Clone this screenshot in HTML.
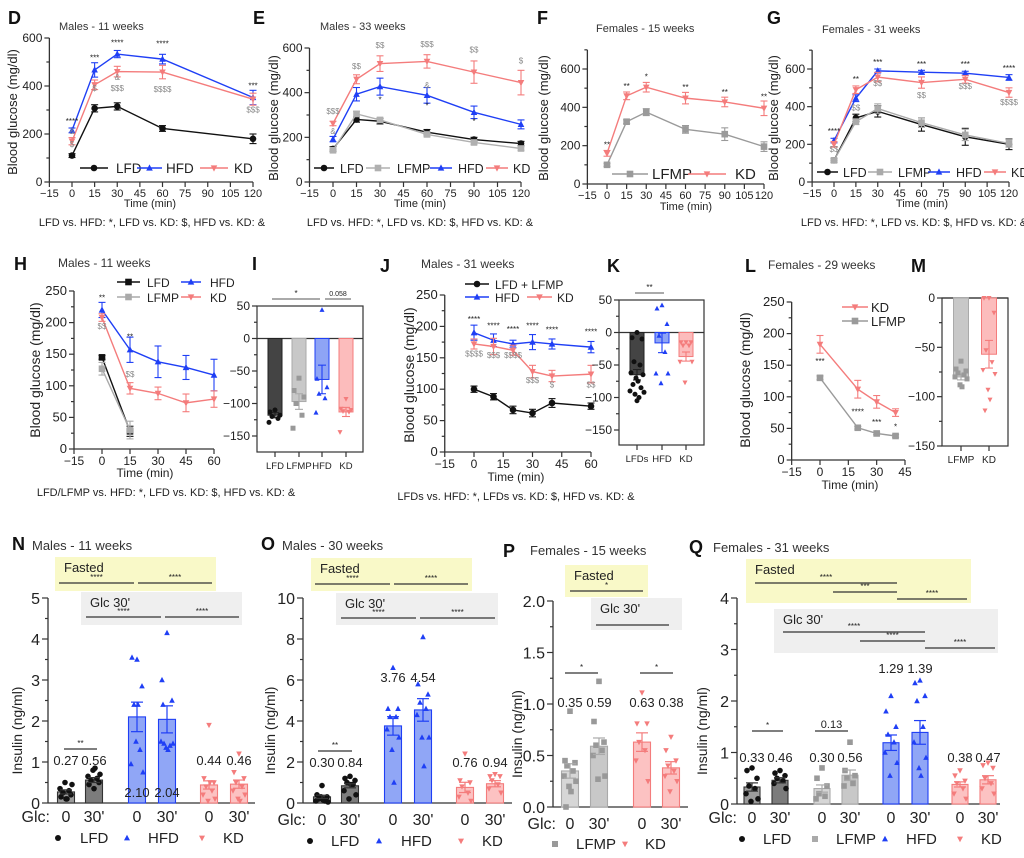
<!DOCTYPE html>
<html><head><meta charset="utf-8"><style>
html,body{margin:0;padding:0;background:#fff;}
svg{display:block;font-family:"Liberation Sans",sans-serif;}
</style></head><body>
<svg id="fig" width="1024" height="858" viewBox="0 0 1024 858"></svg>
<script>
/* ---------- DATA ---------- */
// D
const dX=[0,15,30,60,120];
const dLFD=[110,307,315,223,180], dLFDe=[8,15,15,12,20];
const dHFD=[215,467,533,512,352], dHFDe=[10,30,15,20,30];
const dKD=[170,405,460,458,345], dKDe=[15,20,22,28,25];
// E
const eX=[0,15,30,60,90,120];
const eLFD=[148,280,272,223,190,172], eLFDe=[10,12,12,12,10,10];
const eLFMP=[142,305,278,213,177,150], eLFMPe=[8,12,10,10,8,8];
const eHFD=[192,393,427,388,312,258], eHFDe=[12,30,38,35,28,20];
const eKD=[262,460,530,540,492,445], eKDe=[10,20,35,30,50,55];
// F
const fX=[0,15,30,60,90,120];
const fLFMP=[100,325,375,285,260,195], fLFMPe=[8,10,18,20,33,25];
const fKD=[160,460,505,448,428,395], fKDe=[15,20,25,30,25,38];
// G
const gX=[0,15,30,60,90,120];
const gLFD=[115,340,375,305,240,200], gLFDe=[10,20,30,35,45,28];
const gLFMP=[115,320,390,315,250,205], gLFMPe=[8,15,25,25,30,20];
const gHFD=[220,445,590,583,578,555], gHFDe=[12,18,10,10,10,15];
const gKD=[200,490,557,528,545,475], gKDe=[15,20,25,30,20,25];
// H
const hX2=[0,15], hX=[0,15,30,45,60];
const hLFD=[145,28], hLFDe=[3,8];
const hLFMP=[127,30], hLFMPe=[10,14];
const hHFD=[220,157,138,129,117], hHFDe=[12,20,25,19,25];
const hKD=[208,96,88,73,79], hKDe=[6,9,10,14,13];
// J
const jX=[0,10,20,30,40,60];
const jLFD=[100,88,67,62,78,73], jLFDe=[5,5,6,6,7,5];
const jHFD=[190,178,172,175,172,167], jHFDe=[12,10,6,12,8,9];
const jKD=[172,168,162,128,121,124], jKDe=[8,13,8,10,9,14];
// L
const lX=[0,20,30,40];
const lKD=[183,112,92,75], lKDe=[14,14,10,6];
const lLFMP=[130,51,42,38], lLFMPe=[3,2,2,2];
// I
const iCats=["LFD","LFMP","HFD","KD"];
const iVals=[-118,-97,-63,-113], iErr=[4,12,22,7];
const iPts=[[-110,-113,-118,-120,-123,-129],[-61,-80,-90,-100,-118,-138],[44,-62,-75,-85,-92,-114],[-93,-108,-110,-112,-113,-144]];
// K
const kCats=["LFDs","HFD","KD"];
const kVals=[-65,-16,-37], kErr=[8,15,7];
const kPts=[[0,-8,-10,-45,-50,-62,-65,-70,-75,-80,-85,-90,-92,-95,-100,-105],[42,37,13,-5,-30,-63,-63,-78],[-15,-15,-15,-20,-20,-45,-45,-77]];
// M
const mCats=["LFMP","KD"];
const mVals=[-80,-57], mErr=[3,14];
const mPts=[[-64,-72,-74,-76,-78,-80,-82,-88,-90],[0,0,-15,-53,-65,-73,-77,-93,-103,-114]];
// N
const nVals=[0.27,0.56,2.10,2.04,0.44,0.46], nErr=[0.05,0.06,0.36,0.33,0.1,0.1];
const nLabels=["0.27","0.56","2.10","2.04","0.44","0.46"];
const nPts=[[0.1,0.15,0.2,0.25,0.3,0.35,0.45,0.5,0.1],[0.35,0.45,0.5,0.55,0.6,0.65,0.7,0.8,0.85],[3.5,3.55,2.85,2.4,1.3,0.95,0.75,1.5,2.4],[4.15,3.0,2.5,1.45,1.4,1.5,1.45,1.35,1.3,2.4],[1.9,0.6,0.5,0.4,0.3,0.2,0.1,0.05,0.5],[1.2,0.75,0.6,0.5,0.4,0.3,0.2,0.1,0.05]];
// O
const oVals=[0.30,0.84,3.76,4.54,0.76,0.94], oErr=[0.08,0.1,0.45,0.55,0.25,0.15];
const oLabels=["0.30","0.84","3.76","4.54","0.76","0.94"];
const oPts=[[0.85,0.4,0.3,0.2,0.1,0.1,0.05,0.3,0.15],[1.3,1.2,1.1,1.0,0.9,0.6,0.4,0.2,0.9],[6.6,4.6,4.6,4.2,4.2,3.6,3.2,2.6,1.0],[8.1,5.8,5.3,4.9,4.6,4.3,3.2,3.2,1.8],[2.4,1.1,1.0,0.8,0.5,0.3,0.1],[1.4,1.3,1.3,1.1,0.9,0.7,0.5]];
// P
const pVals=[0.35,0.59,0.63,0.38], pErr=[0.07,0.08,0.09,0.06];
const pLabels=["0.35","0.59","0.63","0.38"];
const pPts=[[0.93,0.45,0.43,0.4,0.35,0.3,0.25,0.2,0.15,0.0],[1.22,0.83,0.63,0.6,0.55,0.5,0.3,0.27],[1.11,0.81,0.81,0.63,0.55,0.45,0.25],[0.68,0.55,0.45,0.4,0.35,0.3,0.25,0.15]];
// Q
const qVals=[0.33,0.46,0.30,0.56,1.19,1.39,0.38,0.47], qErr=[0.08,0.05,0.07,0.1,0.15,0.23,0.05,0.08];
const qLabels=["0.33","0.46","0.30","0.56","1.29","1.39","0.38","0.47"];
const qPts=[[0.7,0.65,0.5,0.35,0.3,0.2,0.1,0.05],[0.65,0.6,0.55,0.5,0.45,0.4,0.3],[0.7,0.5,0.35,0.2,0.15,0.1],[1.2,0.65,0.55,0.5,0.4,0.35],[2.1,1.8,1.5,1.35,1.2,1.0,0.8,0.55],[2.4,2.35,2.1,2.0,1.5,1.2,0.9,0.7,0.55],[0.65,0.55,0.45,0.4,0.3,0.2,0.1],[0.8,0.75,0.7,0.5,0.4,0.3,0.2]];

/* ---------- HELPERS ---------- */
const NS='http://www.w3.org/2000/svg';
const svg=document.getElementById('fig');
const C={LFD:'#111',LFMP:'#9a9a9a',HFD:'#1f3ff5',KD:'#f47c7c'};
function add(tag,attrs,name,parent,txt){
  const e=document.createElementNS(NS,tag);
  for(const k in attrs) e.setAttribute(k,attrs[k]);
  
  
  if(txt!==undefined) e.textContent=txt;
  (parent||svg).appendChild(e);
  return e;
}
function text(x,y,t,name,o,parent){
  o=o||{};
  return add('text',{x:x,y:y,'font-size':o.fs||11,fill:o.fill||'#222','text-anchor':o.anchor||'start','font-weight':o.fw||'normal',transform:o.tr||''},name,parent,t);
}
function marker(p,type,x,y,s,col,name){
  if(type==='circle') return add('circle',{cx:x,cy:y,r:s,fill:col},name,p);
  if(type==='square') return add('rect',{x:x-s,y:y-s,width:2*s,height:2*s,fill:col},name,p);
  if(type==='up') return add('polygon',{points:`${x},${y-s*1.1} ${x-s},${y+s*0.8} ${x+s},${y+s*0.8}`,fill:col},name,p);
  return add('polygon',{points:`${x},${y+s*1.1} ${x-s},${y-s*0.8} ${x+s},${y-s*0.8}`,fill:col},name,p);
}
function vline(p,x,y1,y2,name,col,w){return add('line',{x1:x,y1:y1,x2:x,y2:y2,stroke:col||'#333','stroke-width':w||1.2},name,p);}
function hline(p,x1,x2,y,name,col,w){return add('line',{x1:x1,y1:y,x2:x2,y2:y,stroke:col||'#333','stroke-width':w||1.2},name,p);}

/* ---------- LINE CHART ---------- */
function lineChart(c){
  const g=add('g',{},c.id+'-chart');
  const sx=v=>c.xz+v*c.xs;
  const sy=v=>c.y0-(v-c.ymin)/(c.ymax-c.ymin)*(c.y0-c.yt);
  const axX=sx(c.xmin);
  const yTopPx=sy(c.yAxisMax!==undefined?c.yAxisMax:c.ymax);
  vline(g,axX,c.y0,yTopPx,c.id+'-y-axis','#333',1.3);
  hline(g,axX,sx(c.xmax),c.y0,c.id+'-x-axis','#333',1.3);
  for(let v=c.ymin; v<= (c.yAxisMax!==undefined?c.yAxisMax:c.ymax)+1e-9; v+=c.yMinor){
    const major=c.yTicks.some(t=>Math.abs(t-v)<1e-9);
    hline(g,axX-(major?5:3),axX,sy(v),c.id+'-y-tick','#333',1.2);
  }
  c.yTicks.forEach(v=>text(axX-7,sy(v)+4,String(v).replace('-','\u2212'),c.id+'-y-tick-label',{anchor:'end',fs:c.yfs||12},g));
  c.xTicks.forEach(v=>{
    vline(g,sx(v),c.y0,c.y0+5,c.id+'-x-tick','#333',1.2);
    text(sx(v),c.y0+(c.xly||15),String(v).replace('-','\u2212'),c.id+'-x-tick-label',{anchor:'middle',fs:c.xfs||11},g);
  });
  text(c.xtX,c.xtY,'Time (min)',c.id+'-x-axis-title',{anchor:'middle',fs:c.xtfs||11},g);
  text(0,0,'Blood glucose (mg/dl)',c.id+'-y-axis-title',{anchor:'middle',fs:c.ytfs||13,tr:`translate(${c.ytX},${c.ytY}) rotate(-90)`},g);
  c.series.forEach(s=>{
    const sg=add('g',{},c.id+'-series-'+s.key.toLowerCase(),g);
    const pts=s.x.map((xv,i)=>[sx(xv),sy(s.v[i])]);
    add('polyline',{points:pts.map(p=>p.join(',')).join(' '),fill:'none',stroke:s.col,'stroke-width':1.4},c.id+'-line-'+s.key.toLowerCase(),sg);
    pts.forEach((p,i)=>{
      const e=s.e[i];
      vline(sg,p[0],sy(s.v[i]-e),sy(s.v[i]+e),c.id+'-error-bar',s.col,1.1);
      hline(sg,p[0]-3.5,p[0]+3.5,sy(s.v[i]+e),c.id+'-error-cap',s.col,1.1);
      hline(sg,p[0]-3.5,p[0]+3.5,sy(s.v[i]-e),c.id+'-error-cap',s.col,1.1);
      marker(sg,s.m,p[0],p[1],3.3,s.col,c.id+'-point-'+s.key.toLowerCase());
    });
  });
  (c.legend||[]).forEach(l=>{
    const s=c.series.find(q=>q.key===l.key);
    const lg=add('g',{},c.id+'-legend-entry',g);
    hline(lg,l.x1,l.x2,l.y,c.id+'-legend-line',s.col,1.4);
    marker(lg,s.m,(l.x1+l.x2)/2,l.y,3.3,s.col,c.id+'-legend-marker');
    text(l.tx,l.y+5,l.label||s.key,c.id+'-legend-label',{fs:l.fs||14},lg);
  });
  (c.ann||[]).forEach(a=>text(sx(a[0]),sy(a[1]),a[2],c.id+'-significance',{anchor:'middle',fs:8,fill:a[3]||'#222'},g));
}

/* ---------- BAR (AUC) CHART ---------- */
function barChart(c){
  const g=add('g',{},c.id+'-chart');
  const sy=v=>c.y0-(v-c.ymin)/(c.ymax-c.ymin)*(c.y0-c.yt);
  add('rect',{x:c.ax,y:c.frameTop,width:c.ar-c.ax,height:c.yb-c.frameTop,fill:'none',stroke:'#333','stroke-width':1.2},c.id+'-frame',g);
  hline(g,c.ax,c.ar,sy(0),c.id+'-zero-line','#333',1.2);
  for(let v=c.ymin; v<=c.ymax+1e-9; v+=c.yMinor){
    const major=c.yTicks.some(t=>Math.abs(t-v)<1e-9);
    hline(g,c.ax-(major?5:3),c.ax,sy(v),c.id+'-y-tick','#333',1.2);
  }
  c.yTicks.forEach(v=>text(c.ax-7,sy(v)+4,String(v).replace('-','\u2212'),c.id+'-y-tick-label',{anchor:'end',fs:12},g));
  c.cats.forEach((cat,i)=>{
    const x=c.cx[i], st=c.styles[i];
    vline(g,x,c.yb,c.yb+5,c.id+'-x-tick','#333',1.2);
    text(x,c.yb+17,cat,c.id+'-x-tick-label',{anchor:'middle',fs:c.xfs||11},g);
    const y1=sy(0), y2=sy(c.vals[i]);
    add('rect',{x:x-c.bw/2,y:Math.min(y1,y2),width:c.bw,height:Math.abs(y2-y1),fill:st.fill,stroke:st.edge,'stroke-width':1},c.id+'-bar-'+cat.toLowerCase(),g);
    vline(g,x,sy(c.vals[i]-c.err[i]),sy(c.vals[i]+c.err[i]),c.id+'-error-bar',st.edge,1.1);
    hline(g,x-4,x+4,sy(c.vals[i]-c.err[i]),c.id+'-error-cap',st.edge,1.1);
    hline(g,x-4,x+4,sy(c.vals[i]+c.err[i]),c.id+'-error-cap',st.edge,1.1);
    const offs=[0,-5,5,-3,3,-6,6,-1,1,-4,4,-7,7,-2,2,0];
    c.pts[i].forEach((v,j)=>marker(g,st.m,x+offs[j%offs.length],sy(v),2.5,st.pc,c.id+'-data-point'));
  });
  (c.brackets||[]).forEach(b=>{
    hline(g,b[0],b[1],b[2],c.id+'-comparison-bracket','#555',1);
    text((b[0]+b[1])/2,b[2]-3,b[3],c.id+'-comparison-label',{anchor:'middle',fs:b[4]||8},g);
  });
}

/* ---------- INSULIN CHART ---------- */
function insChart(c){
  const g=add('g',{},c.id+'-chart');
  const sy=v=>c.y0-v/c.ymax*(c.y0-c.yt);
  (c.boxes||[]).forEach(b=>{
    add('rect',{x:b.x1,y:b.y1,width:b.x2-b.x1,height:b.y2-b.y1,fill:b.fill},c.id+'-'+b.name+'-box',g);
    text(b.x1+9,b.y1+15,b.label,c.id+'-'+b.name+'-label',{fs:13},g);
    b.lines.forEach(l=>{
      hline(g,l[0],l[1],l[2],c.id+'-'+b.name+'-bracket','#333',1.2);
      if(l[3]) text((l[0]+l[1])/2,l[2]-3,l[3],c.id+'-'+b.name+'-significance',{anchor:'middle',fs:8},g);
    });
  });
  vline(g,c.ax,c.y0,c.yt,c.id+'-y-axis','#333',1.3);
  hline(g,c.ax,c.xEnd,c.y0,c.id+'-x-axis','#333',1.3);
  for(let v=0; v<=c.ymax+1e-9; v+=c.yMinor){
    const major=c.yTicks.some(t=>Math.abs(t-v)<1e-9);
    hline(g,c.ax-(major?6:3),c.ax,sy(v),c.id+'-y-tick','#333',1.2);
  }
  c.yTicks.forEach(v=>text(c.ax-8,sy(v)+6,c.fmt?v.toFixed(1):String(v),c.id+'-y-tick-label',{anchor:'end',fs:16},g));
  text(0,0,'Insulin (ng/ml)',c.id+'-y-axis-title',{anchor:'middle',fs:14,tr:`translate(${c.ytX},${(c.y0+c.yt)/2+30}) rotate(-90)`},g);
  text(c.glcX,c.glcY,'Glc:',c.id+'-glc-label',{anchor:'end',fs:16},g);
  c.cx.forEach((x,i)=>{
    const st=c.styles[i];
    const y1=sy(0), y2=sy(c.vals[i]);
    add('rect',{x:x-c.bw/2,y:y2,width:c.bw,height:y1-y2,fill:st.fill,stroke:st.edge,'stroke-width':1.1},c.id+'-bar-'+i,g);
    const offs=[0,-5,5,-3,3,-6,6,-1,1,-4,4,-2];
    c.pts[i].forEach((v,j)=>marker(g,st.m,x+offs[j%offs.length],sy(v),2.8,st.pc,c.id+'-data-point'));
    vline(g,x,sy(c.vals[i]-c.err[i]),sy(c.vals[i]+c.err[i]),c.id+'-error-bar',st.edge,1.2);
    hline(g,x-6,x+6,sy(c.vals[i]+c.err[i]),c.id+'-error-cap',st.edge,1.2);
    hline(g,x-6,x+6,sy(c.vals[i]-c.err[i]),c.id+'-error-cap',st.edge,1.2);
    text(x,c.labelY[i],c.labels[i],c.id+'-mean-label',{anchor:'middle',fs:13},g);
    text(x,c.glcY,i%2===0?'0':"30'",c.id+'-glc-tick-label',{anchor:'middle',fs:16},g);
  });
  (c.brackets||[]).forEach(b=>{
    hline(g,b[0],b[1],b[2],c.id+'-comparison-bracket','#333',1.2);
    text((b[0]+b[1])/2,b[2]-3,b[3],c.id+'-comparison-label',{anchor:'middle',fs:b[4]||8},g);
  });
  c.legend.forEach(l=>{
    const lg=add('g',{},c.id+'-legend-entry',g);
    marker(lg,l.m,l.x,c.legY-5,3,l.col,c.id+'-legend-marker');
    text(l.tx,c.legY,l.label,c.id+'-legend-label',{fs:15},lg);
  });
}

/* ---------- PANEL LETTERS & TITLES ---------- */
[['D',8,24],['E',253,24],['F',537,24],['G',767,24],['H',14,270],['I',252,270],['J',380,272],['K',607,272],['L',745,272],['M',911,272],['N',12,550],['O',261,550],['P',503,557],['Q',689,553]].forEach(p=>
  text(p[1],p[2],p[0],'panel-letter-'+p[0].toLowerCase(),{fs:18,fw:'bold',fill:'#111'}));
[['Males - 11 weeks',59,30,11],['Males - 33 weeks',320,30,11],['Females - 15 weeks',596,32,11],['Females - 31 weeks',822,33,11],['Males - 11 weeks',58,267,12],['Males - 31 weeks',421,268,12],['Females - 29 weeks',768,269,12],['Males - 11 weeks',32,550,13],['Males - 30 weeks',282,550,13],['Females - 15 weeks',530,555,13],['Females - 31 weeks',713,552,13]].forEach(t=>
  text(t[1],t[2],t[0],'panel-title',{fs:t[3],fill:'#333'}));
[['LFD vs. HFD: *, LFD vs. KD: $, HFD vs. KD: &',152,226],['LFD vs. HFD: *, LFD vs. KD: $, HFD vs. KD: &',420,226],['LFD vs. HFD: *, LFD vs. KD: $, HFD vs. KD: &',914,226],['LFD/LFMP vs. HFD: *, LFD vs. KD: $, HFD vs. KD: &',166,496],['LFDs vs. HFD: *, LFDs vs. KD: $, HFD vs. KD: &',516,500]].forEach(t=>
  text(t[1],t[2],t[0],'statistics-footnote',{fs:11,anchor:'middle'}));

/* ---------- BUILD ---------- */
lineChart({id:'d',xz:72,xs:(253-72)/120,xmin:-15,xmax:120,y0:182,yt:38,ymin:0,ymax:600,yTicks:[0,200,400,600],yMinor:100,
  xTicks:[-15,0,15,30,45,60,75,90,105,120],xtX:150,xtY:207,ytX:17,ytY:112,
  series:[{key:'LFD',x:dX,v:dLFD,e:dLFDe,col:C.LFD,m:'circle'},{key:'HFD',x:dX,v:dHFD,e:dHFDe,col:C.HFD,m:'up'},{key:'KD',x:dX,v:dKD,e:dKDe,col:C.KD,m:'down'}],
  legend:[{key:'LFD',x1:80,x2:108,y:168,tx:116,fs:13.5},{key:'HFD',x1:137,x2:162,y:168,tx:166,fs:13.5},{key:'KD',x1:200,x2:228,y:168,tx:234,fs:13.5}],
  ann:[[0,242,'****'],[0,200,'&','#888'],[0,145,'$','#888'],[15,506,'***'],[15,380,'$','#888'],[30,568,'****'],[30,425,'&','#888'],[30,380,'$$$','#888'],[60,565,'****'],[60,375,'$$$$','#888'],[120,390,'***'],[120,290,'$$$','#888']]});
lineChart({id:'e',xz:333,xs:(521-333)/120,xmin:-15,xmax:120,y0:182,yt:48,ymin:0,ymax:600,yTicks:[0,200,400,600],yMinor:100,
  xTicks:[-15,0,15,30,45,60,75,90,105,120],xtX:420,xtY:207,ytX:278,ytY:118,
  series:[{key:'LFD',x:eX,v:eLFD,e:eLFDe,col:C.LFD,m:'circle'},{key:'LFMP',x:eX,v:eLFMP,e:eLFMPe,col:'#b0b0b0',m:'square'},{key:'HFD',x:eX,v:eHFD,e:eHFDe,col:C.HFD,m:'up'},{key:'KD',x:eX,v:eKD,e:eKDe,col:C.KD,m:'down'}],
  legend:[{key:'LFD',x1:314,x2:334,y:168,tx:340,fs:12.5},{key:'LFMP',x1:366,x2:390,y:168,tx:397,fs:12.5},{key:'HFD',x1:430,x2:452,y:168,tx:458,fs:12.5},{key:'KD',x1:486,x2:508,y:168,tx:513,fs:12.5}],
  ann:[[0,305,'$$$','#888'],[0,215,'&','#888'],[15,505,'$$','#888'],[30,600,'$$','#888'],[30,355,'*'],[60,605,'$$$','#888'],[60,420,'&','#888'],[60,330,'*'],[90,580,'$$','#888'],[90,260,'*'],[120,530,'$','#888']]});
lineChart({id:'f',xz:607,xs:(764-607)/120,xmin:-15,xmax:120,y0:184,yt:69,ymin:0,ymax:600,yAxisMax:700,yTicks:[0,200,400,600],yMinor:100,
  xTicks:[-15,0,15,30,45,60,75,90,105,120],xtX:686,xtY:210,ytX:548,ytY:118,
  series:[{key:'LFMP',x:fX,v:fLFMP,e:fLFMPe,col:'#9a9a9a',m:'square'},{key:'KD',x:fX,v:fKD,e:fKDe,col:C.KD,m:'down'}],
  legend:[{key:'LFMP',x1:612,x2:648,y:174,tx:652,fs:15},{key:'KD',x1:688,x2:726,y:174,tx:735,fs:15}],
  ann:[[0,190,'**'],[15,495,'**'],[30,545,'*'],[60,490,'**'],[90,465,'**'],[120,440,'**']]});
lineChart({id:'g',xz:834,xs:(1009-834)/120,xmin:-15,xmax:120,y0:182,yt:69,ymin:0,ymax:600,yAxisMax:700,yTicks:[0,200,400,600],yMinor:100,
  xTicks:[-15,0,15,30,45,60,75,90,105,120],xtX:922,xtY:207,ytX:778,ytY:118,
  series:[{key:'LFD',x:gX,v:gLFD,e:gLFDe,col:C.LFD,m:'circle'},{key:'LFMP',x:gX,v:gLFMP,e:gLFMPe,col:'#aaa',m:'square'},{key:'HFD',x:gX,v:gHFD,e:gHFDe,col:C.HFD,m:'up'},{key:'KD',x:gX,v:gKD,e:gKDe,col:C.KD,m:'down'}],
  legend:[{key:'LFD',x1:817,x2:838,y:172,tx:843,fs:12.5},{key:'LFMP',x1:868,x2:892,y:172,tx:898,fs:12.5},{key:'HFD',x1:928,x2:950,y:172,tx:956,fs:12.5},{key:'KD',x1:984,x2:1006,y:172,tx:1011,fs:12.5}],
  ann:[[0,255,'****'],[0,160,'$$','#888'],[15,530,'**'],[15,380,'$$','#888'],[30,620,'***'],[30,510,'$$','#888'],[60,610,'***'],[60,445,'$$','#888'],[90,610,'***'],[90,495,'$$$','#888'],[120,590,'****'],[120,410,'$$$$','#888']]});
lineChart({id:'h',xz:102,xs:(214-102)/60,xmin:-15,xmax:60,y0:449,yt:291,ymin:0,ymax:250,yTicks:[0,50,100,150,200,250],yMinor:25,
  xTicks:[-15,0,15,30,45,60],xtX:145,xtY:477,xtfs:12,xfs:12,xly:16,yfs:13,ytX:40,ytY:370,ytfs:14,
  series:[{key:'LFD',x:hX2,v:hLFD,e:hLFDe,col:C.LFD,m:'square'},{key:'LFMP',x:hX2,v:hLFMP,e:hLFMPe,col:'#aaa',m:'square'},{key:'HFD',x:hX,v:hHFD,e:hHFDe,col:C.HFD,m:'up'},{key:'KD',x:hX,v:hKD,e:hKDe,col:C.KD,m:'down'}],
  legend:[{key:'LFD',x1:117,x2:140,y:282,tx:147,fs:12},{key:'HFD',x1:181,x2:201,y:282,tx:210,fs:12},{key:'LFMP',x1:117,x2:140,y:297,tx:147,fs:12},{key:'KD',x1:181,x2:201,y:297,tx:210,fs:12}],
  ann:[[0,235,'**'],[0,190,'$$','#888'],[15,173,'**'],[15,114,'$$','#888']]});
lineChart({id:'j',xz:474,xs:(591-474)/60,xmin:-15,xmax:60,y0:452,yt:295,ymin:0,ymax:250,yTicks:[0,50,100,150,200,250],yMinor:25,
  xTicks:[-15,0,15,30,45,60],xtX:516,xtY:481,xtfs:12,xfs:12,xly:16,yfs:13,ytX:414,ytY:375,ytfs:14,
  series:[{key:'LFD',x:jX,v:jLFD,e:jLFDe,col:C.LFD,m:'circle'},{key:'HFD',x:jX,v:jHFD,e:jHFDe,col:C.HFD,m:'up'},{key:'KD',x:jX,v:jKD,e:jKDe,col:C.KD,m:'down'}],
  legend:[{key:'LFD',x1:465,x2:489,y:284,tx:495,label:'LFD + LFMP',fs:12},{key:'HFD',x1:465,x2:489,y:297,tx:495,fs:12},{key:'KD',x1:527,x2:552,y:297,tx:557,fs:12}],
  ann:[[0,207,'****'],[10,197,'****'],[20,191,'****'],[30,197,'****'],[40,190,'****'],[60,187,'****'],[0,152,'$$$$','#888'],[10,150,'$$$','#888'],[20,150,'$$$$','#888'],[30,110,'$$$','#888'],[40,103,'$','#888'],[60,103,'$$','#888']]});
lineChart({id:'l',xz:820,xs:(905-820)/45,xmin:-15,xmax:45,y0:460,yt:302,ymin:0,ymax:250,yTicks:[0,50,100,150,200,250],yMinor:25,
  xTicks:[-15,0,15,30,45],xtX:850,xtY:489,xtfs:12,xfs:12,xly:16,yfs:13,ytX:750,ytY:380,ytfs:14,
  series:[{key:'KD',x:lX,v:lKD,e:lKDe,col:C.KD,m:'down'},{key:'LFMP',x:lX,v:lLFMP,e:lLFMPe,col:'#9a9a9a',m:'square'}],
  legend:[{key:'KD',x1:842,x2:868,y:307,tx:871,fs:13},{key:'LFMP',x1:842,x2:868,y:321,tx:871,fs:13}],
  ann:[[0,152,'***'],[20,72,'****'],[30,55,'***'],[40,48,'*']]});

barChart({id:'i',ax:257,ar:363,frameTop:306,yb:452,y0:436,yt:306,ymin:-150,ymax:50,yTicks:[50,0,-50,-100,-150],yMinor:25,xfs:9.5,
  cats:iCats,cx:[275,299,322,346],bw:14,vals:iVals,err:iErr,pts:iPts,
  styles:[{fill:'#444',edge:'#222',m:'circle',pc:'#111'},{fill:'#c8c8c8',edge:'#aaa',m:'square',pc:'#999'},{fill:'#8ea4f5',edge:'#1f3ff5',m:'up',pc:'#1f3ff5'},{fill:'#fcbcbc',edge:'#f47c7c',m:'down',pc:'#f47c7c'}],
  brackets:[[272,320,299,'*'],[325,351,299,'0.058',7]]});
barChart({id:'k',ax:619,ar:704,frameTop:300,yb:445,y0:430,yt:300,ymin:-150,ymax:50,yTicks:[50,0,-50,-100,-150],yMinor:25,xfs:9.5,
  cats:kCats,cx:[637,662,686],bw:14,vals:kVals,err:kErr,pts:kPts,
  styles:[{fill:'#444',edge:'#222',m:'circle',pc:'#111'},{fill:'#8ea4f5',edge:'#1f3ff5',m:'up',pc:'#1f3ff5'},{fill:'#fcbcbc',edge:'#f47c7c',m:'down',pc:'#f47c7c'}],
  brackets:[[635,664,293,'**']]});
barChart({id:'m',ax:942,ar:1008,frameTop:298,yb:446,y0:446,yt:298,ymin:-150,ymax:0,yTicks:[0,-50,-100,-150],yMinor:25,xfs:10,
  cats:mCats,cx:[961,989],bw:15,vals:mVals,err:mErr,pts:mPts,
  styles:[{fill:'#c8c8c8',edge:'#aaa',m:'square',pc:'#999'},{fill:'#fcbcbc',edge:'#f47c7c',m:'down',pc:'#f47c7c'}]});

const S={
 l0:{fill:'#9c9c9c',edge:'#333',m:'circle',pc:'#111'}, l3:{fill:'#7c7c7c',edge:'#333',m:'circle',pc:'#111'},
 p0:{fill:'#d6d6d6',edge:'#aaa',m:'square',pc:'#999'}, p3:{fill:'#c8c8c8',edge:'#aaa',m:'square',pc:'#999'},
 h:{fill:'#90a6f6',edge:'#1f3ff5',m:'up',pc:'#1f3ff5'}, k:{fill:'#fcc2c2',edge:'#f47c7c',m:'down',pc:'#f47c7c'}};
insChart({id:'n',ax:48,y0:803,yt:598,ymax:5,yTicks:[0,1,2,3,4,5],yMinor:0.5,xEnd:255,cx:[66,94,137,167,209,239],bw:17,
  vals:nVals,err:nErr,pts:nPts,labels:nLabels,labelY:[765,765,797,797,765,765],styles:[S.l0,S.l3,S.h,S.h,S.k,S.k],
  ytX:22,glcX:50,glcY:822,legY:843,
  legend:[{m:'circle',col:'#111',x:58,tx:80,label:'LFD'},{m:'up',col:C.HFD,x:127,tx:148,label:'HFD'},{m:'down',col:C.KD,x:202,tx:223,label:'KD'}],
  brackets:[[64,97,749,'**']],
  boxes:[{name:'fasted',label:'Fasted',x1:55,x2:216,y1:557,y2:591,fill:'#f9f9c8',lines:[[59,134,583,'****'],[138,212,583,'****']]},
         {name:'glc30',label:"Glc 30'",x1:81,x2:242,y1:592,y2:625,fill:'#efefef',lines:[[86,161,617,'****'],[165,239,617,'****']]}]});
insChart({id:'o',ax:303,y0:803,yt:598,ymax:10,yTicks:[0,2,4,6,8,10],yMinor:1,xEnd:512,cx:[322,350,393,423,465,495],bw:17,
  vals:oVals,err:oErr,pts:oPts,labels:oLabels,labelY:[767,767,682,682,767,767],styles:[S.l0,S.l3,S.h,S.h,S.k,S.k],
  ytX:275,glcX:306,glcY:825,legY:846,
  legend:[{m:'circle',col:'#111',x:310,tx:331,label:'LFD'},{m:'up',col:C.HFD,x:379,tx:401,label:'HFD'},{m:'down',col:C.KD,x:461,tx:482,label:'KD'}],
  brackets:[[318,352,751,'**']],
  boxes:[{name:'fasted',label:'Fasted',x1:311,x2:472,y1:558,y2:591,fill:'#f9f9c8',lines:[[315,390,584,'****'],[394,468,584,'****']]},
         {name:'glc30',label:"Glc 30'",x1:336,x2:498,y1:593,y2:625,fill:'#efefef',lines:[[341,416,618,'****'],[420,495,618,'****']]}]});
insChart({id:'p',ax:553,y0:807,yt:601,ymax:2,yTicks:[0,0.5,1,1.5,2],fmt:true,yMinor:0.25,xEnd:688,cx:[570,599,642,671],bw:17,
  vals:pVals,err:pErr,pts:pPts,labels:pLabels,labelY:[707,707,707,707],styles:[S.p0,S.p3,S.k,S.k],
  ytX:522,glcX:556,glcY:829,legY:849,
  legend:[{m:'square',col:'#999',x:555,tx:576,label:'LFMP'},{m:'down',col:C.KD,x:625,tx:645,label:'KD'}],
  brackets:[[565,598,673,'*'],[640,673,673,'*']],
  boxes:[{name:'fasted',label:'Fasted',x1:565,x2:648,y1:565,y2:597,fill:'#f9f9c8',lines:[[570,643,591,'*']]},
         {name:'glc30',label:"Glc 30'",x1:591,x2:682,y1:598,y2:630,fill:'#efefef',lines:[[596,669,625,'']]}]});
insChart({id:'q',ax:737,y0:804,yt:598,ymax:4,yTicks:[0,1,2,3,4],yMinor:0.5,xEnd:1000,cx:[752,780,822,850,891,920,960,988],bw:16,
  vals:qVals,err:qErr,pts:qPts,labels:qLabels,labelY:[762,762,762,762,673,673,762,762],styles:[S.l0,S.l3,S.p0,S.p3,S.h,S.h,S.k,S.k],
  ytX:707,glcX:737,glcY:823,legY:844,
  legend:[{m:'circle',col:'#111',x:742,tx:763,label:'LFD'},{m:'square',col:'#aaa',x:815,tx:836,label:'LFMP'},{m:'up',col:C.HFD,x:885,tx:906,label:'HFD'},{m:'down',col:C.KD,x:960,tx:981,label:'KD'}],
  brackets:[[752,783,731,'*'],[815,848,731,'0.13',11]],
  boxes:[{name:'fasted',label:'Fasted',x1:746,x2:971,y1:559,y2:603,fill:'#f9f9c8',lines:[[755,897,583,'****'],[833,897,592,'***'],[897,967,599,'****']]},
         {name:'glc30',label:"Glc 30'",x1:774,x2:998,y1:609,y2:653,fill:'#efefef',lines:[[783,925,632,'****'],[860,925,641,'****'],[925,995,648,'****']]}]});
</script>
</body></html>
